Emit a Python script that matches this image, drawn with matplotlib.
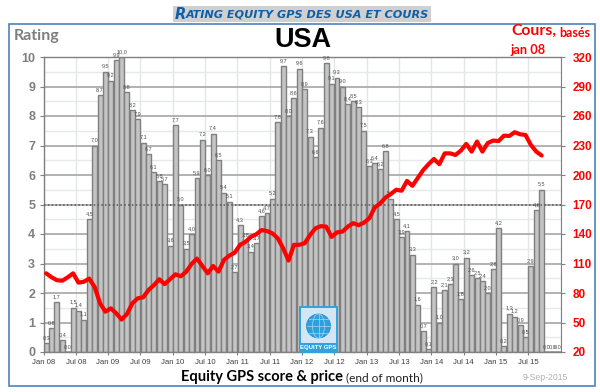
import numpy as np
import matplotlib
matplotlib.use('Agg')
import matplotlib.pyplot as plt
from matplotlib.patches import Rectangle, Circle, Ellipse

# Rating by month, Jan 08 to Dec 15
rating = [0.3, 0.8, 1.7, 0.4, 0.0, 1.5, 1.4, 1.1, 4.5, 7.0, 8.7, 9.5,
          9.2, 9.9, 10.0, 8.8, 8.2, 7.9, 7.1, 6.7, 6.1, 5.8, 5.7, 3.6,
          7.7, 5.0, 3.5, 4.0, 5.9, 7.2, 6.0, 7.4, 6.5, 5.4, 5.1, 2.7,
          4.3, 3.8, 3.4, 3.7, 4.6, 4.7, 5.2, 7.8, 9.7, 8.0, 8.6, 9.6,
          8.9, 7.3, 6.6, 7.6, 9.8, 9.1, 9.3, 9.0, 8.4, 8.5, 8.3, 7.5,
          6.3, 6.4, 6.2, 6.8, 5.2, 4.5, 3.9, 4.1, 3.3, 1.6, 0.7, 0.1,
          2.2, 1.0, 2.1, 2.3, 3.0, 1.8, 3.2, 2.6, 2.5, 2.4, 2.0, 2.8,
          4.2, 0.2, 1.3, 1.2, 0.9, 0.5, 2.9, 4.8, 5.5, 0.0, 0.0, 0.0]

# Price, base jan 08 (right axis), stops at Sep 15
price = [100, 96, 93, 92.5, 96, 100, 90.5, 91.5, 94.6, 86, 69.5, 61,
         64.4, 59.4, 53, 58.7, 69.5, 74.6, 75.6, 83, 88, 94, 89, 94,
         99, 97, 101.7, 109.5, 115, 107.5, 100, 107.5, 101.7, 113.6, 118, 121,
         129, 132, 137, 139.7, 144, 143, 140.7, 135.6, 125.5, 113, 129, 129,
         130.6, 139, 145.8, 148, 147.5, 137, 141.7, 142.4, 147.5, 151, 149, 151.5,
         156, 167, 171, 177, 180.7, 185, 184, 194, 189, 197, 205, 211,
         216.3, 211, 222, 222, 220.4, 224.8, 231.6, 223.8, 234, 223.8, 232.6, 235,
         234.5, 240, 239.7, 243.5, 241.4, 240.7, 230.6, 223.8, 219.8]

month_labels = ['Jan 08', 'Jul 08', 'Jan 09', 'Jul 09', 'Jan 10', 'Jul 10', 'Jan 11', 'Jul 11',
                'Jan 12', 'Jul 12', 'Jan 13', 'Jul 13', 'Jan 14', 'Jul 14', 'Jan 15', 'Jul 15']
left_ticks = [0, 1, 2, 3, 4, 5, 6, 7, 8, 9, 10]
right_ticks = [20, 50, 80, 110, 140, 170, 200, 230, 260, 290, 320]

W, H = 600, 392
fig = plt.figure(figsize=(6, 3.92), dpi=100, facecolor='white')

# page layer in pixel coords, for frame / titles / logo
bg = fig.add_axes([0, 0, 1, 1])
bg.set_xlim(0, W)
bg.set_ylim(H, 0)
bg.axis('off')
bg.add_patch(Rectangle((8.7, 23.7), 586, 362.6, fill=False, ec='#4f81bd', lw=1.2))
bg.add_patch(Rectangle((173, 6), 258, 16, fc='#d0d0d0', ec='none'))

# small caps title: one big R then the rest
bg.text(174.5, 14.5, 'R', color='#0f5fa8', fontsize=10.5, fontweight='bold', style='italic',
        family='DejaVu Sans', va='center')
bg.text(185.5, 14.8, 'ATING EQUITY GPS DES USA ET COURS', color='#0f5fa8', fontsize=8.1,
        fontweight='bold', style='italic', family='DejaVu Sans', va='center')

# main chart
x0, x1, y_top, y_bot = 43.5, 560.5, 57, 352
ax = fig.add_axes([x0 / W, 1 - y_bot / H, (x1 - x0) / W, (y_bot - y_top) / H])
ax.set_facecolor('none')
n = len(rating)
xpos = np.arange(n) + 0.5
ax.set_xlim(0, n)
ax.set_ylim(0, 10)

ax.set_yticks(left_ticks)
ax.set_yticks(np.arange(0.5, 10, 1), minor=True)
xt = np.arange(len(month_labels)) * 6
ax.set_xticks(xt)
ax.set_xticklabels(month_labels)
ax.set_axisbelow(True)
ax.grid(axis='y', which='major', color='#a6a6a6', lw=1.2, zorder=0)
ax.grid(axis='y', which='minor', color='#e6e9e9', lw=1.0, zorder=0)
ax.grid(axis='x', which='major', color='#e2e6e6', lw=1.0, zorder=0)
ax.axvline(96, color='#e2e6e6', lw=1.0, zorder=0)

ax.bar(xpos, rating, width=0.92, color='#c4c4c4', edgecolor='#7f7f7f', lw=1.0, zorder=2)
ax.axhline(5, color='#555555', lw=1.1, ls=(0, (1, 1.5)), zorder=3)

for x, v in zip(xpos, rating):
    ax.annotate(f'{v:.1f}'.replace('.', ','), (x, v), xytext=(0, 2.2), textcoords='offset points',
                ha='center', va='bottom', fontsize=4, color='#505050', family='Liberation Sans', zorder=4)

for s in ['left', 'bottom', 'top']:
    ax.spines[s].set_color('#808080')
    ax.spines[s].set_linewidth(1.0)
ax.spines['right'].set_visible(False)
ax.tick_params(axis='y', which='major', length=3, color='#808080', labelsize=9, labelcolor='#7f7f7f', pad=3)
ax.tick_params(axis='y', which='minor', length=0)
ax.tick_params(axis='x', length=2, color='#808080', labelsize=5.6, labelcolor='#404040', pad=3)
for lab in ax.get_yticklabels():
    lab.set_fontweight('bold')
    lab.set_family('Liberation Sans')
for lab in ax.get_xticklabels():
    lab.set_family('Liberation Sans')

ax2 = ax.twinx()
ax2.set_ylim(20, 320)
ax2.set_yticks(right_ticks)
ax2.plot(xpos[:len(price)], price, color='#ff0000', lw=3.0, solid_capstyle='round',
         solid_joinstyle='round', zorder=5)
for s in ['left', 'bottom', 'top']:
    ax2.spines[s].set_visible(False)
ax2.spines['right'].set_color('#808080')
ax2.tick_params(axis='y', length=3, color='#808080', labelsize=8.5, labelcolor='#ff0000', pad=5.5)
for lab in ax2.get_yticklabels():
    lab.set_fontweight('bold')
    lab.set_family('Liberation Sans')

# text on the page layer, on top of the chart
top = fig.add_axes([0, 0, 1, 1])
top.set_xlim(0, W)
top.set_ylim(H, 0)
top.axis('off')
top.text(13.5, 36, 'Rating', color='#7f7f7f', fontsize=11.5, fontweight='bold', family='Lato', va='center')
top.text(303, 40, 'USA', color='black', fontsize=19.5, fontweight='bold', family='Liberation Sans',
         ha='center', va='center')
top.text(511, 31, 'Cours,', color='#ff0000', fontsize=11.3, fontweight='bold', family='Lato', va='center')
top.text(559, 32.5, 'basés', color='#ff0000', fontsize=9, fontweight='bold', family='Lato', va='center')
top.text(510.5, 49.5, 'jan 08', color='#ff0000', fontsize=9.2, fontweight='bold', family='Lato', va='center')
top.text(181, 377, 'Equity GPS score & price', color='black', fontsize=10.5, fontweight='bold',
         family='Lato', va='center')
top.text(345.5, 377.5, '(end of month)', color='#202020', fontsize=8.6, family='Lato', va='center')
top.text(523, 378, '9-Sep-2015', color='#b0b0b0', fontsize=6.2, family='Liberation Sans', va='center')

# logo
top.add_patch(Rectangle((300, 307), 37, 45, fc='#d5e6f2', ec='#2ea3e0', lw=1.4, zorder=5))
top.add_patch(Circle((318.5, 326), 12, fc='#2f9fe0', ec='#1c86c8', lw=0.5, zorder=6))
top.add_patch(Ellipse((318.5, 326), 12, 24, fill=False, ec='#a8d8f5', lw=0.5, zorder=7))
top.plot([306.5, 330.5], [326, 326], color='#a8d8f5', lw=0.5, zorder=7)
top.plot([308.5, 328.5], [319, 319], color='#a8d8f5', lw=0.5, zorder=7)
top.plot([308.5, 328.5], [333, 333], color='#a8d8f5', lw=0.5, zorder=7)
top.plot([318.5, 318.5], [314, 338], color='#a8d8f5', lw=0.5, zorder=7)
top.add_patch(Rectangle((300, 343), 37, 9, fc='#2ea3e0', ec='none', zorder=8))
top.text(318.5, 347.7, 'EQUITY GPS', color='white', fontsize=4.3, fontweight='bold',
         family='Liberation Sans', ha='center', va='center', zorder=9)

fig.savefig('out.png', dpi=100)
